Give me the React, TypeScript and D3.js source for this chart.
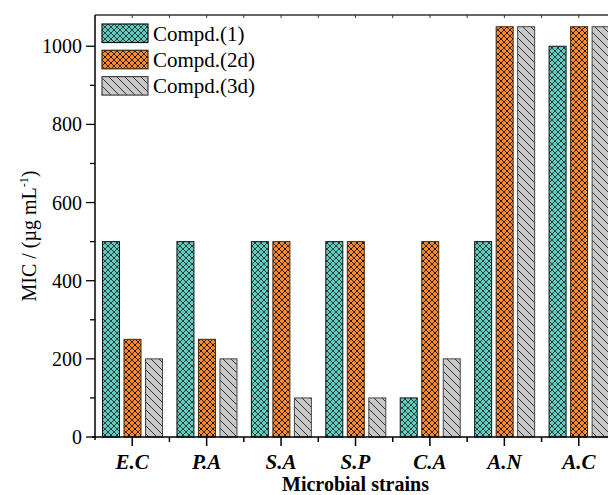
import React, { useEffect, useRef } from "react";
import * as d3 from "d3";

const strains = ["E.C", "P.A", "S.A", "S.P", "C.A", "A.N", "A.C"];
const seriesNames = ["Compd.(1)", "Compd.(2d)", "Compd.(3d)"];
const compd1 = [500, 500, 500, 500, 100, 500, 1000];
const compd2d = [250, 250, 500, 500, 500, 1050, 1050];
const compd3d = [200, 200, 100, 100, 200, 1050, 1050];
const yTicks = [0, 200, 400, 600, 800, 1000];
const yMinor = [100, 300, 500, 700, 900];

const fills = ["url(#pTeal)", "url(#pOrange)", "url(#pGray)"];
const strokes = ["#111", "#3a2a1a", "#444"];

function App() {
  const svgRef = useRef<SVGSVGElement>(null);

  useEffect(() => {
    const w = 608;
    const h = 495;
    const m = { left: 95, right: 616, top: 15, bottom: 437 };
    const font = "'Liberation Serif', 'Times New Roman', serif";

    const svg = d3.select(svgRef.current).attr("width", w).attr("height", h);
    svg.selectAll("*").remove();

    // patterns
    const defs = svg.append("defs");
    const teal = defs.append("pattern").attr("id", "pTeal").attr("patternUnits", "userSpaceOnUse")
      .attr("width", 6).attr("height", 6);
    teal.append("rect").attr("width", 6).attr("height", 6).attr("fill", "#62cbbd");
    teal.append("path").attr("d", "M0,0L6,6M6,0L0,6").attr("stroke", "#111").attr("stroke-width", 0.75);

    const orange = defs.append("pattern").attr("id", "pOrange").attr("patternUnits", "userSpaceOnUse")
      .attr("width", 6).attr("height", 6);
    orange.append("rect").attr("width", 6).attr("height", 6).attr("fill", "#f88a2c");
    orange.append("path").attr("d", "M0,0L6,6M6,0L0,6").attr("stroke", "#1a1008").attr("stroke-width", 0.85);
    orange.append("circle").attr("cx", 3).attr("cy", 3).attr("r", 0.9).attr("fill", "#1a1008");

    const gray = defs.append("pattern").attr("id", "pGray").attr("patternUnits", "userSpaceOnUse")
      .attr("width", 8).attr("height", 8);
    gray.append("rect").attr("width", 8).attr("height", 8).attr("fill", "#c8c8c8");
    gray.append("path").attr("d", "M0,0L8,8M-4,4L0,8M4,-4L12,4").attr("stroke", "#222").attr("stroke-width", 0.9);

    const x = d3.scaleLinear().domain([0.5, strains.length + 0.5]).range([m.left, m.right]);
    const y = d3.scaleLinear().domain([0, 1080]).range([m.bottom, m.top]);
    const inner = d3.scaleBand<number>().domain([0, 1, 2]).range([-29.7, 30.3]).paddingInner(0.21);

    const data = [compd1, compd2d, compd3d];

    // bars
    data.forEach((vals, s) => {
      svg.append("g")
        .selectAll("rect")
        .data(vals)
        .join("rect")
        .attr("x", (v, i) => x(i + 1) + (inner(s) as number))
        .attr("y", (v) => y(v))
        .attr("width", inner.bandwidth())
        .attr("height", (v) => y(0) - y(v))
        .attr("fill", fills[s])
        .attr("stroke", strokes[s])
        .attr("stroke-width", 1);
    });

    // axes frame
    svg.append("line").attr("x1", m.left).attr("x2", w).attr("y1", m.top).attr("y2", m.top)
      .attr("stroke", "#333").attr("stroke-width", 1.3);
    svg.append("line").attr("x1", m.left).attr("x2", m.left).attr("y1", m.top).attr("y2", m.bottom + 3)
      .attr("stroke", "#000").attr("stroke-width", 1.5);
    svg.append("line").attr("x1", m.left - 3).attr("x2", w).attr("y1", m.bottom).attr("y2", m.bottom)
      .attr("stroke", "#000").attr("stroke-width", 1.5);

    // y ticks
    const yAxis = svg.append("g").attr("font-family", font).attr("font-size", 20);
    yTicks.forEach((t) => {
      yAxis.append("line").attr("x1", m.left - 9).attr("x2", m.left).attr("y1", y(t)).attr("y2", y(t))
        .attr("stroke", "#000").attr("stroke-width", 1.3);
      yAxis.append("text").attr("x", m.left - 13).attr("y", y(t)).attr("dy", "0.35em")
        .attr("text-anchor", "end").attr("fill", "#000").text(t);
    });
    yMinor.forEach((t) => {
      yAxis.append("line").attr("x1", m.left - 5).attr("x2", m.left).attr("y1", y(t)).attr("y2", y(t))
        .attr("stroke", "#000").attr("stroke-width", 1.3);
    });

    // x ticks
    const xAxis = svg.append("g").attr("font-family", font).attr("font-size", 21);
    strains.forEach((s, i) => {
      xAxis.append("line").attr("x1", x(i + 1)).attr("x2", x(i + 1)).attr("y1", m.bottom).attr("y2", m.bottom + 9)
        .attr("stroke", "#000").attr("stroke-width", 1.5);
      xAxis.append("line").attr("x1", x(i + 1.5)).attr("x2", x(i + 1.5)).attr("y1", m.bottom).attr("y2", m.bottom + 5)
        .attr("stroke", "#000").attr("stroke-width", 1.5);
      xAxis.append("text").attr("x", x(i + 1)).attr("y", 469).attr("text-anchor", "middle")
        .attr("font-weight", "bold").attr("font-style", "italic").attr("fill", "#000").text(s);
      // top ticks
      [i + 0.5, i + 1].forEach((p) => {
        svg.append("line").attr("x1", x(p)).attr("x2", x(p)).attr("y1", m.top).attr("y2", m.top + 3)
          .attr("stroke", "#333").attr("stroke-width", 1);
      });
    });

    // axis titles
    svg.append("text").attr("x", (m.left + m.right) / 2).attr("y", 491).attr("text-anchor", "middle")
      .attr("font-family", font).attr("font-size", 20).attr("font-weight", "bold").attr("fill", "#000")
      .text("Microbial strains");

    const yl = svg.append("text").attr("transform", "translate(36,236) rotate(-90)")
      .attr("text-anchor", "middle").attr("font-family", font).attr("font-size", 20).attr("fill", "#000");
    yl.append("tspan").text("MIC / (µg mL");
    yl.append("tspan").attr("font-size", 12).attr("dy", -8).text("-1");
    yl.append("tspan").attr("dy", 8).text(")");

    // legend
    const lg = svg.append("g").attr("font-family", font).attr("font-size", 21);
    seriesNames.forEach((n, i) => {
      const ly = 24 + i * 26.3;
      lg.append("rect").attr("x", 102).attr("y", ly).attr("width", 46).attr("height", 18.5)
        .attr("fill", fills[i]).attr("stroke", strokes[i]).attr("stroke-width", 1.2);
      lg.append("text").attr("x", 153).attr("y", ly + 9.5).attr("dy", "0.35em").attr("fill", "#000").text(n);
    });
  }, []);

  return (
    <svg ref={svgRef} style={{ position: "absolute", left: 0, top: 0, background: "#fff" }}></svg>
  );
}

export default App;
